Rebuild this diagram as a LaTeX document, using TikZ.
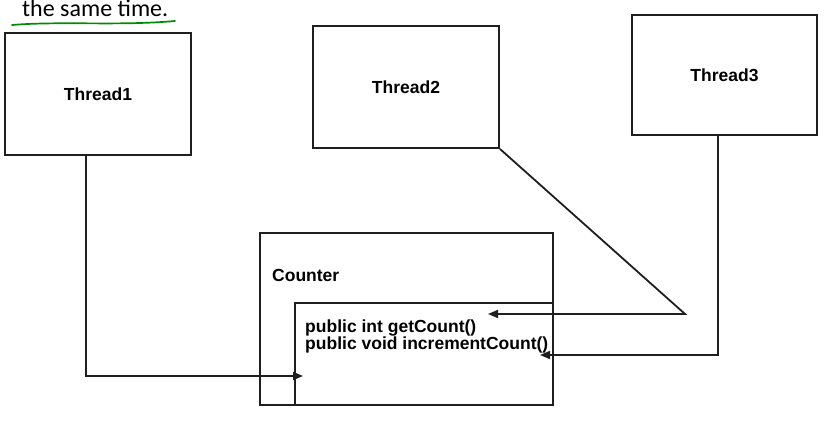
\documentclass[tikz,border=0pt]{standalone}
\usepackage{fontspec}
\setmainfont{Liberation Sans}
\newfontfamily\notefont{Carlito}
\usetikzlibrary{arrows.meta,calc}

\begin{document}
\begin{tikzpicture}[x=1pt,y=-1pt,
  ink/.style={draw=black!88},
  box/.style={ink,line width=1.9pt,inner sep=0pt,
    font=\bfseries\fontsize{17.5}{17.5}\selectfont},
  wire/.style={ink,line width=1.8pt},
  tip/.style={-{Triangle[length=10pt,width=8pt]}},
  member/.style={anchor=base west,inner sep=0pt,
    font=\bfseries\fontsize{17.5}{17.5}\selectfont}]

\useasboundingbox (0,0) rectangle (834,427);
\fill[white] (0,0) rectangle (834,427);

% heading fragment with its hand-drawn underline
\node[anchor=base west,inner sep=0pt,
  font=\notefont\fontsize{24}{24}\selectfont] (note) at (22,17) {the same time.};
\draw[draw=green!55!black,line width=1.7pt,line cap=round]
  (12,25) .. controls (60,21) and (120,26) .. (175,21);

% threads
\node[box,minimum width=186pt,minimum height=122pt] (t1) at (98,94) {Thread1};
\node[box,minimum width=186pt,minimum height=122pt] (t2) at (406,87) {Thread2};
\node[box,minimum width=185pt,minimum height=120pt] (t3) at (724.5,75) {Thread3};

% counter class
\node[box,minimum width=293pt,minimum height=172pt] (counter) at (406.5,319) {};
\node[anchor=base west,inner sep=0pt,font=\bfseries\fontsize{17.5}{17.5}\selectfont]
  (cname) at (272,282) {Counter};
\coordinate (div) at (295,303);
\draw[box] (counter.south -| div) |- (counter.east |- div);
\node[member] (getc) at (305,332) {public int getCount()};
\node[member] (incc) at (305,349) {public void incrementCount()};

% calls from the threads
\coordinate (j1) at (86,376);
\coordinate (in1) at (303,376);
\coordinate (j2) at (685,314);
\coordinate (in2) at (488,314);
\coordinate (j3) at (718,355);
\coordinate (in3) at (540,355);

\draw[wire,tip] (t1.south -| j1) |- (in1);
\draw[wire,tip] (t2.south east) -- (j2) -- (in2);
\draw[wire,tip] (t3.south -| j3) |- (in3);
\end{tikzpicture}
\end{document}
